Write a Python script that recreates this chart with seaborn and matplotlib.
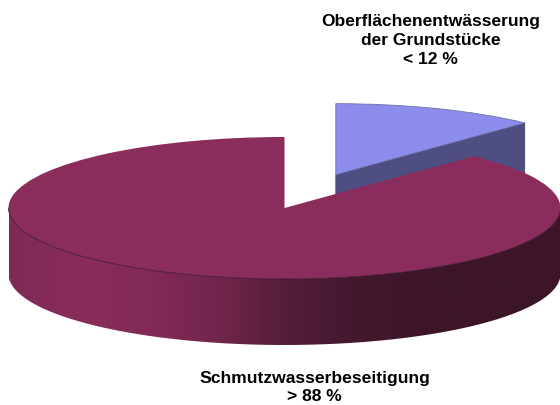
import matplotlib.pyplot as plt
import numpy as np
import seaborn as sns
from matplotlib.patches import PathPatch, Polygon
from matplotlib.path import Path

# Data
categories = ["Oberflächenentwässerung\nder Grundstücke\n< 12 %", "Schmutzwasserbeseitigung\n> 88 %"]
shares = [12, 88]
top_colors = ["#8c8cec", "#8b2d5c"]
blue_wall = "#4e4e82"
wall_shades = ["#7e2a54", "#8a2c5a", "#832a56", "#72264b", "#551d3a", "#44192e", "#3c1628", "#3c1628", "#3c1628"]

sns.set_theme(style="white")
plt.rcParams["font.family"] = ["Liberation Sans", "DejaVu Sans"]

W, H = 560, 405
cx, cy, rx, ry = 284.5, 208, 276, 71  # ellipse of the main slice in pixels
depth = 66 / ry
explode = 0.505

fig = plt.figure(figsize=(W / 100, H / 100), dpi=100)
ax = fig.add_axes([0, 0, 1, 1])

wedges, _ = ax.pie(
    shares,
    colors=top_colors,
    startangle=90,
    counterclock=False,
    explode=[explode, 0],
    wedgeprops={"linewidth": 0},
)
wedges[0].set_zorder(2)
wedges[0].set_edgecolor("#6f6fa8")
wedges[0].set_linewidth(0.6)
wedges[1].set_zorder(4)

# Side wall of the small slice, below its cut edge
ang = np.deg2rad(90 - 360 * shares[0] / sum(shares))
bis = np.deg2rad(90 - 180 * shares[0] / sum(shares))
ox, oy = explode * np.cos(bis), explode * np.sin(bis)
ex, ey = ox + np.cos(ang), oy + np.sin(ang)
ax.add_patch(
    Polygon(
        [(ox, oy), (ex, ey), (ex, ey - depth), (ox, oy - depth)],
        closed=True,
        facecolor=blue_wall,
        edgecolor="#3c3c66",
        linewidth=0.5,
        zorder=1,
    )
)

# Side wall of the big slice with the dark gradient
t = np.deg2rad(np.linspace(180, 360, 200))
wall_x = np.r_[np.cos(t), np.cos(t[::-1])]
wall_y = np.r_[np.sin(t) - depth, np.sin(t[::-1])]
wall_path = Path(np.column_stack([wall_x, wall_y]))
wall_patch = PathPatch(wall_path, transform=ax.transData, facecolor="none", edgecolor="none")
ax.add_patch(wall_patch)
cmap = sns.blend_palette(wall_shades, as_cmap=True)
img = ax.imshow(
    np.linspace(0, 1, 256).reshape(1, -1),
    cmap=cmap,
    extent=[-1, 1, -1 - depth, 0],
    aspect="auto",
    zorder=3,
)
img.set_clip_path(wall_patch)

# Thin dark line where top and wall meet
ax.plot(np.cos(t), np.sin(t), color="#2e1020", linewidth=0.5, zorder=5)

ax.set_aspect("auto")
ax.set_xlim((0 - cx) / rx, (W - cx) / rx)
ax.set_ylim((cy - H) / ry, cy / ry)
ax.axis("off")

fig.text(430.5 / W, 1 - 40.5 / H, categories[0], ha="center", va="center",
         fontsize=12.5, fontweight="bold", color="black", linespacing=1.33)
fig.text(314.5 / W, 1 - 387.5 / H, categories[1], ha="center", va="center",
         fontsize=12.6, fontweight="bold", color="black", linespacing=1.25)

fig.savefig("out.png", dpi=100)
print("Plot saved to out.png")
